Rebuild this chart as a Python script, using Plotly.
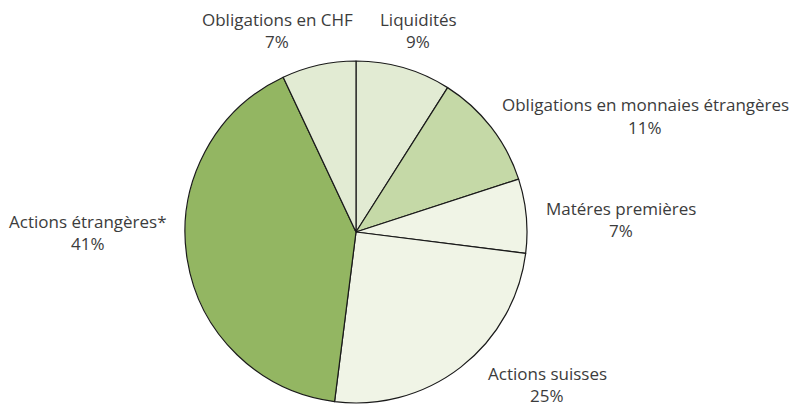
import plotly.graph_objects as go

labels = ["Liquidités", "Obligations en monnaies étrangères", "Matéres premières",
          "Actions suisses", "Actions étrangères*", "Obligations en CHF"]
values = [9, 11, 7, 25, 41, 7]
colors = ["#e2ebd3", "#c5d9a7", "#f0f4e6", "#f0f4e6", "#93b662", "#e2ebd3"]

# label anchor positions in pixels (centre x, first-line y)
label_pos = [(418, 20), (645, 105), (621, 208), (547, 373), (88, 222), (277, 20)]

W, H = 793, 407
cx, cy, r = 356, 232, 171

fig = go.Figure(go.Pie(
    labels=labels, values=values, sort=False, direction="clockwise", rotation=0,
    marker=dict(colors=colors, line=dict(color="#1a1a1a", width=1.2)),
    textinfo="none", hoverinfo="label+percent", showlegend=False,
    domain=dict(x=[(cx - r) / W, (cx + r) / W], y=[(H - cy - r) / H, (H - cy + r) / H]),
))

anns = []
for lab, v, (px, py) in zip(labels, values, label_pos):
    for txt, yy in ((lab, py), (f"{v}%", py + 22)):
        anns.append(dict(x=px / W, y=1 - yy / H, xref="paper", yref="paper",
                         text=txt, showarrow=False, xanchor="center", yanchor="middle",
                         borderpad=0,
                         font=dict(family="Open Sans", size=17, color="#3c3c3c")))

fig.update_layout(width=W, height=H, margin=dict(l=0, r=0, t=0, b=0),
                  paper_bgcolor="white", plot_bgcolor="white", annotations=anns)
fig.write_html("out.html", config={"displayModeBar": False},
               post_script="document.body.style.margin='0';document.body.style.overflow='hidden';")
